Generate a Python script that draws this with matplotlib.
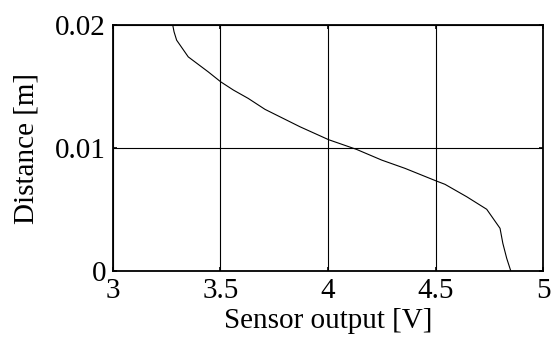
import matplotlib
matplotlib.use("Agg")
import matplotlib.pyplot as plt

voltage = [3.278, 3.284, 3.296, 3.350, 3.443, 3.501, 3.560, 3.629, 3.707, 3.777,
           3.870, 4.003, 4.133, 4.250, 4.358, 4.501, 4.544, 4.645, 4.738, 4.800,
           4.813, 4.831, 4.850]
distance = [0.0200, 0.01946, 0.01878, 0.01742, 0.01620, 0.01539, 0.01472, 0.01404,
            0.01315, 0.01254, 0.01173, 0.01068, 0.00989, 0.00902, 0.00835, 0.00734,
            0.00705, 0.00604, 0.00502, 0.00347, 0.00225, 0.00103, 0.0]
xticks = [3, 3.5, 4, 4.5, 5]
xticklabels = ["3", "3.5", "4", "4.5", "5"]
yticks = [0, 0.01, 0.02]
yticklabels = ["0", "0.01", "0.02"]

plt.rcParams['font.family'] = ['Liberation Serif', 'DejaVu Serif']
fig = plt.figure(figsize=(5.53, 3.40), dpi=100)
ax = fig.add_axes([0.2043, 0.203, 0.7777, 0.723])
ax.plot(voltage, distance, color='black', linewidth=0.8)
ax.set_xlim(3, 5)
ax.set_ylim(0, 0.02)
ax.set_xticks(xticks)
ax.set_xticklabels(xticklabels)
ax.set_yticks(yticks)
ax.set_yticklabels(yticklabels)
ax.grid(True, color='black', linewidth=0.8, linestyle='-')
ax.tick_params(direction='in', length=3, width=1.2, top=True, right=True,
               labelsize=21, colors='black')
ax.tick_params(axis='x', pad=5)
ax.tick_params(axis='y', pad=5)
for s in ax.spines.values():
    s.set_linewidth(1.3)
ax.set_xlabel("Sensor output [V]", fontsize=21, labelpad=3)
ax.set_ylabel("Distance [m]", fontsize=21, labelpad=11)
fig.savefig("out.png", dpi=100)
